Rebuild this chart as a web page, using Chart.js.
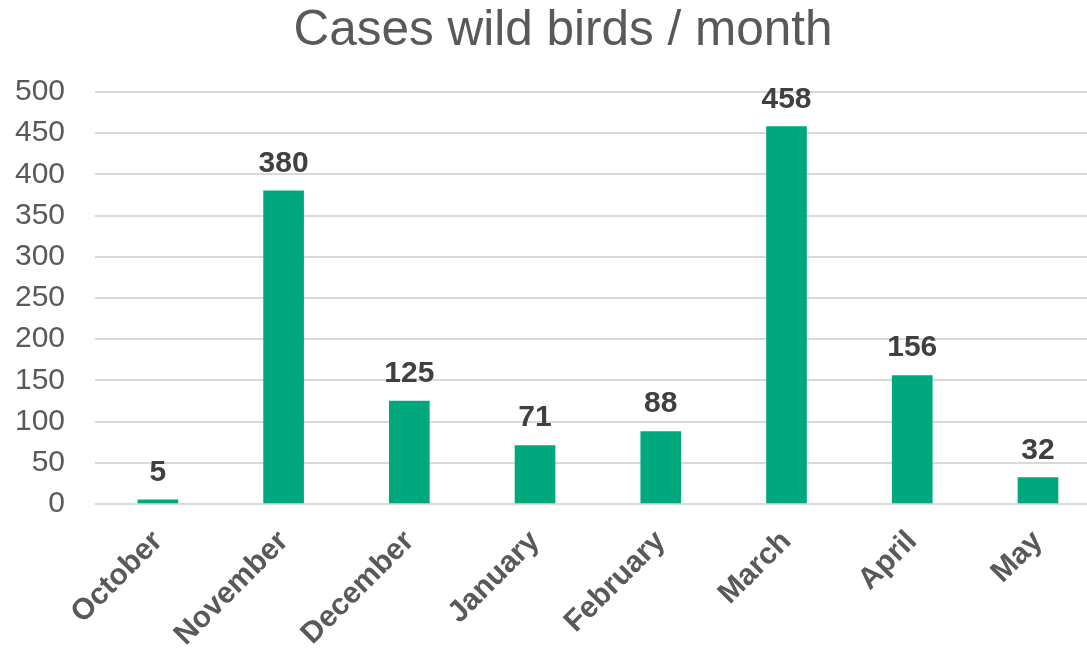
<!DOCTYPE html>
<html>
<head>
<meta charset="utf-8">
<script src="https://cdn.jsdelivr.net/npm/chart.js@4"></script>
<style>
  html, body { margin: 0; padding: 0; background: #fff; }
  #wrap { width: 1087px; height: 652px; }
</style>
</head>
<body>
<div id="wrap"><canvas id="chart" width="1087" height="652"></canvas></div>
<script>
const months = ['October', 'November', 'December', 'January', 'February', 'March', 'April', 'May'];
const cases = [5, 380, 125, 71, 88, 458, 156, 32];
const chartTitle = 'Cases wild birds / month';

const FONT = "'Liberation Sans', Arial, sans-serif";

// title + bar value labels drawn by hand
const labelsPlugin = {
  id: 'labelsPlugin',
  afterDatasetsDraw(chart) {
    const ctx = chart.ctx;
    ctx.save();
    ctx.font = 'bold 30px ' + FONT;
    ctx.fillStyle = '#404040';
    ctx.textAlign = 'center';
    ctx.textBaseline = 'alphabetic';
    chart.getDatasetMeta(0).data.forEach((bar, i) => {
      ctx.fillText(String(cases[i]), bar.x, bar.y - 19);
    });
    ctx.font = '49.5px ' + FONT;
    ctx.fillStyle = '#595959';
    ctx.fillText(chartTitle, 563, 45);
    ctx.restore();
  }
};

new Chart(document.getElementById('chart'), {
  type: 'bar',
  data: {
    datasets: [{
      data: cases.map((v, i) => ({ x: i, y: v })),
      backgroundColor: '#00A87E',
      barThickness: 40
    }]
  },
  options: {
    responsive: false,
    animation: false,
    layout: { padding: { top: 92, right: 0, left: 0, bottom: 0 } },
    plugins: {
      legend: { display: false },
      tooltip: { enabled: false },
      title: { display: false }
    },
    scales: {
      x: {
        type: 'linear',
        min: -0.5,
        max: 7.39,
        offset: false,
        grid: { display: false, drawTicks: false },
        border: { display: false },
        afterBuildTicks: (s) => { s.ticks = months.map((m, i) => ({ value: i })); },
        ticks: {
          color: '#595959',
          font: { family: FONT, size: 30, weight: 'bold' },
          minRotation: 45,
          maxRotation: 45,
          autoSkip: false,
          padding: 20,
          callback: (v) => months[v]
        },
        afterFit: (s) => { s.height = 148; }
      },
      y: {
        min: 0,
        max: 500,
        grid: { color: '#d9d9d9', lineWidth: 2, drawTicks: false },
        border: { display: false },
        ticks: {
          stepSize: 50,
          color: '#595959',
          font: { family: FONT, size: 30 },
          padding: 30
        },
        afterFit: (s) => { s.width = 95; }
      }
    }
  },
  plugins: [labelsPlugin]
});
</script>
</body>
</html>
